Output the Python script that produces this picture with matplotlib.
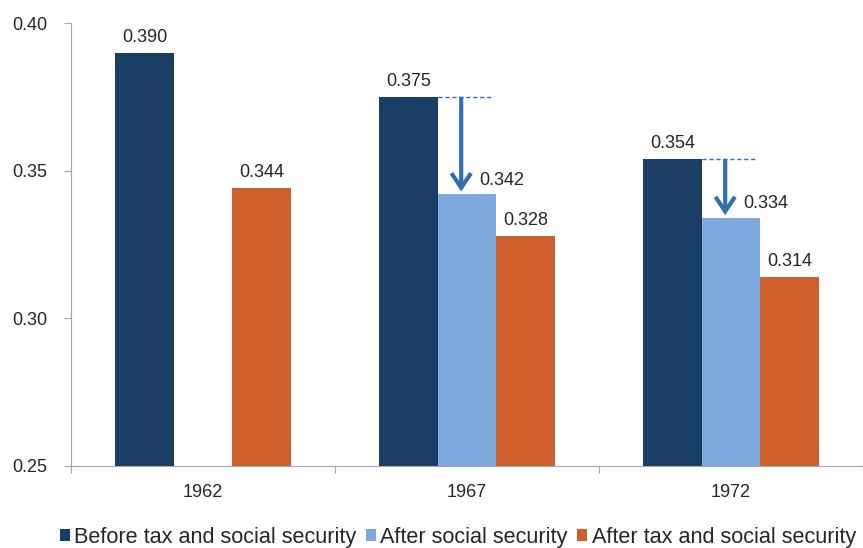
import matplotlib
matplotlib.use("Agg")
import matplotlib.pyplot as plt
from matplotlib.patches import Patch
import numpy as np

plt.rcParams['font.family'] = ['Liberation Sans', 'DejaVu Sans']

years = ["1962", "1967", "1972"]
before_tax_ss = [0.390, 0.375, 0.354]
after_ss = [None, 0.342, 0.334]
after_tax_ss = [0.344, 0.328, 0.314]
series_names = ["Before tax and social security", "After social security",
                "After tax and social security"]
y_ticks = [0.25, 0.30, 0.35, 0.40]

c_dark = "#1a3d66"
c_light = "#7eaade"
c_orange = "#cf5f2c"
c_arrow = "#2f70b0"
c_axis = "#a6a6a6"
c_text = "#262626"

W, H = 863, 548
fig = plt.figure(figsize=(W / 100, H / 100), dpi=100)
ax_left_px = 71
ax_left, ax_right = ax_left_px / W, 1.0
ax_bottom, ax_top = 1 - 466 / H, 1 - 23 / H
ax = fig.add_axes([ax_left, ax_bottom, ax_right - ax_left, ax_top - ax_bottom])

# width of one year group in pixels; the x axis runs off the right edge
group_px = 268.0
x_max = (W - ax_left_px) / group_px - 0.5
x = np.arange(len(years))
bw = 0.222
base = 0.25

def bars(offset, values, color):
    xs = [xi + offset for xi, v in zip(x, values) if v is not None]
    vs = [v - base for v in values if v is not None]
    ax.bar(xs, vs, bw, bottom=base, color=color, linewidth=0, zorder=2)
    return xs, [v + base for v in vs]

xd, vd = bars(-bw, before_tax_ss, c_dark)
xl, vl = bars(0.0, after_ss, c_light)
xo, vo = bars(bw, after_tax_ss, c_orange)

lbl = dict(ha="center", va="bottom", fontsize=13, color=c_text,
           textcoords="offset points", xytext=(0, 5))
for xi, v in zip(xd, vd):
    ax.annotate(f"{v:.3f}", (xi, v), **lbl)
for xi, v in zip(xo, vo):
    ax.annotate(f"{v:.3f}", (xi, v), **lbl)
for xi, v in zip(xl, vl):
    ax.annotate(f"{v:.3f}", (xi + 0.133, v), **{**lbl, "xytext": (0, 4)})

# Arrows showing the drop from the before-tax level to the after-social-security level
for i in range(len(years)):
    if after_ss[i] is None:
        continue
    top = before_tax_ss[i]
    low = after_ss[i]
    ax.plot([x[i] - bw / 2, x[i] + bw / 2 - 0.02], [top, top], color=c_arrow,
            lw=1.0, ls=(0, (3, 2)), zorder=3)
    ax.annotate("", xy=(x[i] - 0.022, low), xytext=(x[i] - 0.022, top),
                arrowprops=dict(arrowstyle="->,head_length=0.75,head_width=0.5",
                                mutation_scale=14, color=c_arrow, lw=3.0,
                                shrinkA=0, shrinkB=2, capstyle="butt",
                                joinstyle="miter"),
                zorder=4)

ax.set_ylim(0.25, 0.40)
ax.set_xlim(-0.5, x_max)
ax.set_yticks(y_ticks)
ax.set_yticklabels([f"{t:.2f}" for t in y_ticks])
ax.set_xticks(x)
ax.set_xticklabels(years)
ax.set_xticks([-0.5, 0.5, 1.5, 2.5], minor=True)
ax.tick_params(axis="x", which="major", length=0, pad=13, labelsize=13,
               labelcolor=c_text)
ax.tick_params(axis="x", which="minor", length=5, color=c_axis, width=0.8)
ax.tick_params(axis="y", length=5, color=c_axis, width=0.8, pad=12,
               labelsize=13, labelcolor=c_text)
for side in ("top", "right"):
    ax.spines[side].set_visible(False)
for side in ("left", "bottom"):
    ax.spines[side].set_color(c_axis)
    ax.spines[side].set_linewidth(0.8)
ax.patch.set_alpha(0)

handles = [Patch(facecolor=c, edgecolor="none") for c in (c_dark, c_light, c_orange)]
fig.legend(handles, series_names, loc="center", bbox_to_anchor=(458 / W, 1 - 537 / H),
           ncol=3, frameon=False, fontsize=15.6, handlelength=0.45, handleheight=0.45,
           handletextpad=0.2, columnspacing=0.45, labelcolor=c_text,
           borderaxespad=0, borderpad=0)

fig.savefig("out.png", dpi=100, facecolor="white")
